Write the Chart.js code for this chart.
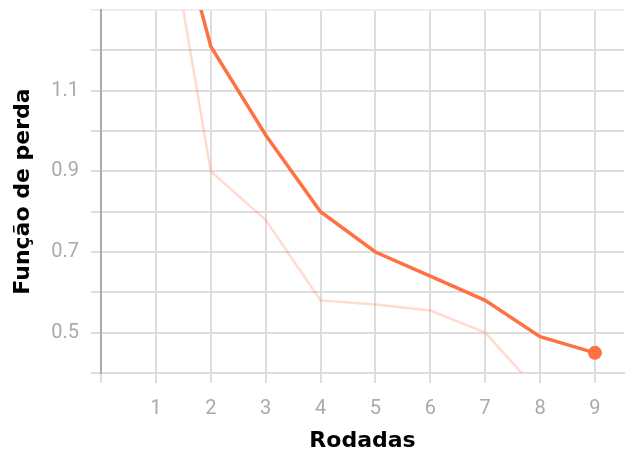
<!DOCTYPE html>
<html>
<head>
<meta charset="utf-8">
<script src="https://cdn.jsdelivr.net/npm/chart.js@4.4.1/dist/chart.umd.min.js"></script>
<style>
html, body { margin: 0; padding: 0; background: #fff; }
#wrap { width: 631px; height: 456px; }
</style>
</head>
<body>
<div id="wrap"><canvas id="chartLoss"></canvas></div>
<script>
const rounds = [1, 2, 3, 4, 5, 6, 7, 8, 9]
const lossMain = [1.72, 1.21, 0.99, 0.80, 0.70, 0.64, 0.58, 0.49, 0.45]
const lossFaint = [1.70, 0.90, 0.78, 0.58, 0.57, 0.555, 0.50, 0.35, 0.30]
const xTicks = [0, 1, 2, 3, 4, 5, 6, 7, 8, 9]
const yTicks = [0.4, 0.5, 0.6, 0.7, 0.8, 0.9, 1.0, 1.1, 1.2, 1.3]
const yLabels = [0.5, 0.7, 0.9, 1.1]

const tickFont = { family: 'Roboto', size: 20 }
const titleFont = { family: 'DejaVu Sans', size: 22, weight: 'bold' }

function toPoints(values) {
    return rounds.map((r, i) => ({ x: r, y: values[i] }))
}

var ctxLoss = document.getElementById('chartLoss').getContext('2d');
var chartLoss = new Chart(ctxLoss, {
    type: 'line',
    data: {
        datasets: [
            {
                data: toPoints(lossFaint),
                borderColor: 'rgba(255, 112, 67, 0.25)',
                borderWidth: 2.5,
                pointRadius: 0,
                tension: 0,
                clip: 0
            },
            {
                data: toPoints(lossMain),
                borderColor: '#ff7043',
                backgroundColor: '#ff7043',
                borderWidth: 3.5,
                pointRadius: ctx => ctx.dataIndex === rounds.length - 1 ? 7 : 0,
                pointBorderWidth: 0,
                tension: 0,
                clip: 0
            }
        ]
    },
    options: {
        responsive: true,
        maintainAspectRatio: false,
        animation: false,
        layout: { padding: { top: 10, right: 0, left: 0, bottom: 0 } },
        plugins: { legend: { display: false }, tooltip: { enabled: false } },
        scales: {
            x: {
                type: 'linear',
                min: 0,
                max: 9.53,
                afterBuildTicks: s => { s.ticks = xTicks.map(v => ({ value: v })) },
                afterFit: s => { s.height = 83; s.paddingRight = 0; s.paddingLeft = 0 },
                ticks: {
                    callback: v => v === 0 ? '' : String(v),
                    font: tickFont,
                    color: '#aaaaaa',
                    padding: 14,
                    maxRotation: 0
                },
                grid: { color: '#dddddd', lineWidth: 2, tickLength: 10 },
                border: { color: '#dddddd', width: 2 },
                title: { display: true, text: 'Rodadas', font: titleFont, color: '#000', padding: { top: 0, bottom: 2 } }
            },
            y: {
                min: 0.4,
                max: 1.3,
                afterBuildTicks: s => { s.ticks = yTicks.map(v => ({ value: v })) },
                afterFit: s => { s.width = 101; s.paddingTop = 0; s.paddingBottom = 0 },
                ticks: {
                    callback: v => yLabels.some(l => Math.abs(l - v) < 1e-6) ? v.toFixed(1) : '',
                    font: tickFont,
                    color: '#aaaaaa',
                    padding: 12
                },
                grid: {
                    color: ctx => ctx.index === yTicks.length - 1 ? '#eeeeee' : '#dddddd',
                    lineWidth: 2,
                    tickLength: 10
                },
                border: { color: '#aaaaaa', width: 2 },
                title: { display: true, text: 'Função de perda', font: titleFont, color: '#000', padding: { top: 10, bottom: 2 } }
            }
        }
    }
});
</script>
</body>
</html>
